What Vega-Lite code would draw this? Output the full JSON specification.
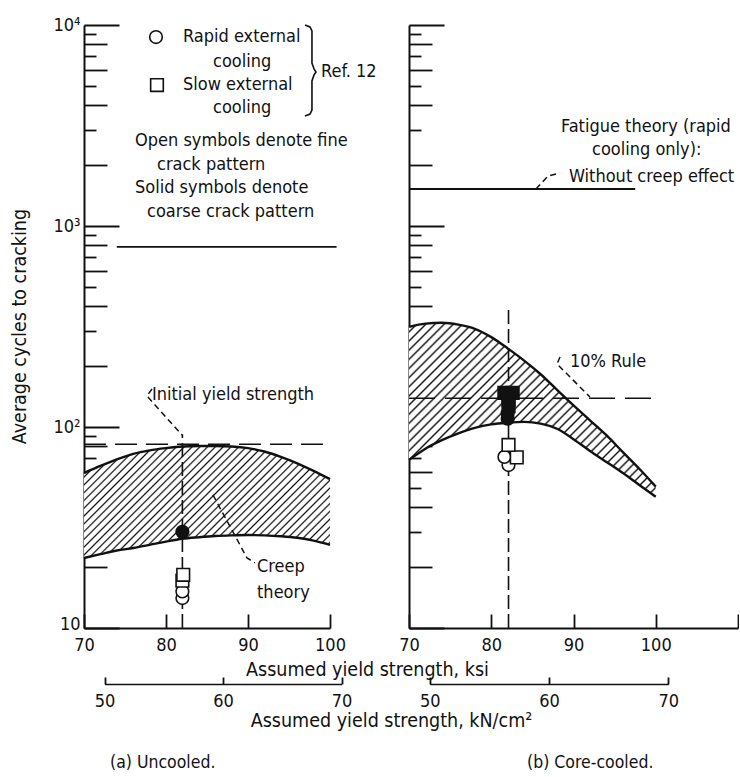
{
"$schema": "https://vega.github.io/schema/vega-lite/v6.json",
"background": "white",
"padding": {"left": 9, "top": 16, "right": 0, "bottom": 0},
"bounds": "flush",
"spacing": 79,
"config": {
  "font": "DejaVu Sans Condensed, Liberation Sans Narrow, DejaVu Sans",
  "view": {"stroke": null},
  "axis": {"domainColor": "#111", "domainWidth": 2, "tickColor": "#111", "tickWidth": 1.8, "labelColor": "#111", "titleColor": "#111", "labelFontSize": 18, "titleFontSize": 19.5, "titleFontWeight": "normal", "grid": false, "zindex": 1}
},
"datasets": {
  "bandA": [
    {"ksi":70,"n":59,"n2":22.3},{"ksi":72,"n":64,"n2":23.3},{"ksi":74,"n":69,"n2":24.3},{"ksi":76,"n":73.5,"n2":25.0},
    {"ksi":78,"n":76.5,"n2":25.9},{"ksi":80,"n":78.5,"n2":26.9},{"ksi":82,"n":80,"n2":27.8},{"ksi":84,"n":80.5,"n2":28.3},
    {"ksi":86,"n":80.5,"n2":28.7},{"ksi":88,"n":80,"n2":28.9},{"ksi":90,"n":78.5,"n2":29.0},{"ksi":92,"n":75.5,"n2":28.9},
    {"ksi":94,"n":71,"n2":28.6},{"ksi":96,"n":66,"n2":28.1},{"ksi":98,"n":60.5,"n2":27.2},{"ksi":100,"n":55,"n2":25.9}
  ],
  "bandB": [
    {"ksi":70,"n":315,"n2":68.6},{"ksi":72,"n":327,"n2":78},{"ksi":74,"n":330,"n2":86},{"ksi":76,"n":323,"n2":93},
    {"ksi":78,"n":308,"n2":99},{"ksi":80,"n":280,"n2":103},{"ksi":82,"n":246,"n2":105},{"ksi":84,"n":214,"n2":106},
    {"ksi":86,"n":183,"n2":104},{"ksi":88,"n":153,"n2":98},{"ksi":90,"n":128,"n2":87},{"ksi":92,"n":108,"n2":76},
    {"ksi":94,"n":91,"n2":67},{"ksi":96,"n":75,"n2":59},{"ksi":98,"n":62,"n2":51.5},{"ksi":100,"n":50.5,"n2":45}
  ],
  "ptsA": [
    {"ksi":78.78,"n":8715,"cool":"Rapid","pat":"fine"},
    {"ksi":78.9,"n":5029,"cool":"Slow","pat":"fine"},
    {"ksi":82,"n":30.1,"cool":"Rapid","pat":"coarse"},
    {"ksi":82,"n":14.1,"cool":"Rapid","pat":"fine"},
    {"ksi":82,"n":15.2,"cool":"Rapid","pat":"fine"},
    {"ksi":82,"n":17.2,"cool":"Slow","pat":"fine"},
    {"ksi":82.1,"n":18.4,"cool":"Slow","pat":"fine"}
  ],
  "ptsB": [
    {"ksi":82.1,"n":64.7,"cool":"Rapid","pat":"fine"},
    {"ksi":81.6,"n":71,"cool":"Rapid","pat":"fine"},
    {"ksi":83.1,"n":70.6,"cool":"Slow","pat":"fine"},
    {"ksi":82.1,"n":81.4,"cool":"Slow","pat":"fine"},
    {"ksi":82.0,"n":110,"cool":"Rapid","pat":"coarse"},
    {"ksi":82.0,"n":117,"cool":"Rapid","pat":"coarse"},
    {"ksi":82.1,"n":127,"cool":"Slow","pat":"coarse"},
    {"ksi":82.1,"n":137,"cool":"Slow","pat":"coarse"},
    {"ksi":81.6,"n":148,"cool":"Slow","pat":"coarse"},
    {"ksi":82.6,"n":148,"cool":"Slow","pat":"coarse"}
  ],
  "txtA": [
    {"ksi":82.07,"n":8715,"label":"Rapid external"},
    {"ksi":85.73,"n":6545,"label":"cooling"},
    {"ksi":82.07,"n":5029,"label":"Slow external"},
    {"ksi":85.73,"n":3864,"label":"cooling"},
    {"ksi":98.9,"n":5838,"label":"Ref. 12"},
    {"ksi":76.22,"n":2648,"label":"Open symbols denote fine"},
    {"ksi":78.9,"n":2012,"label":"crack pattern"},
    {"ksi":76.22,"n":1545,"label":"Solid symbols denote"},
    {"ksi":77.68,"n":1174,"label":"coarse crack pattern"},
    {"ksi":78.29,"n":144,"label":"Initial yield strength"},
    {"ksi":91.1,"n":20.1,"label":"Creep"},
    {"ksi":91.1,"n":14.9,"label":"theory"}
  ],
  "txtB": [
    {"ksi":88.48,"n":3115,"label":"Fatigue theory (rapid"},
    {"ksi":92.25,"n":2392,"label":"cooling only):"},
    {"ksi":89.45,"n":1752,"label":"Without creep effect"},
    {"ksi":89.57,"n":210.6,"label":"10% Rule"}
  ],
  "capA": [{"ksi":73.17,"n":2.13,"label":"(a) Uncooled."}],
  "capB": [{"ksi":84.35,"n":2.13,"label":"(b) Core-cooled."}],
  "braceA": [
    {"o":1,"ksi":96.95,"n":10000},{"o":2,"ksi":97.56,"n":9774},{"o":3,"ksi":97.8,"n":9336},{"o":4,"ksi":97.8,"n":8617},
    {"o":5,"ksi":97.8,"n":6468},{"o":6,"ksi":98.05,"n":6042},{"o":7,"ksi":98.29,"n":5838},{"o":8,"ksi":98.05,"n":5641},
    {"o":9,"ksi":97.8,"n":5265},{"o":10,"ksi":97.8,"n":3953},{"o":11,"ksi":97.8,"n":3776},{"o":12,"ksi":97.56,"n":3607},
    {"o":13,"ksi":96.95,"n":3524}
  ],
  "leadA": [
    {"id":"a","o":1,"ksi":78.29,"n":154.5},{"id":"a","o":2,"ksi":77.68,"n":142.6},{"id":"a","o":3,"ksi":81.95,"n":91.2},
    {"id":"b","o":1,"ksi":85.73,"n":45.9},{"id":"b","o":2,"ksi":89.88,"n":22.3},{"id":"b","o":3,"ksi":90.85,"n":21.1}
  ],
  "leadB": [
    {"id":"c","o":1,"ksi":85.44,"n":1528},{"id":"c","o":2,"ksi":86.9,"n":1774},{"id":"c","o":3,"ksi":88.36,"n":1836},
    {"id":"d","o":1,"ksi":88.36,"n":223},{"id":"d","o":2,"ksi":88.0,"n":206},{"id":"d","o":3,"ksi":92.0,"n":141}
  ]
},
"hconcat": [
{
  "width": 246, "height": 603,
  "resolve": {"scale": {"x": "independent"}},
  "layer": [
  {
    "layer": [
    {
      "data": {"name": "bandA"},
      "mark": {"type": "area", "interpolate": "monotone", "stroke": null,
        "fill": {"gradient": "linear", "x1": 0, "y1": 0, "x2": 1.2054, "y2": 0.5488, "stops": [{"offset":0,"color":"#111"},{"offset":0.0048,"color":"#fff"},{"offset":0.017,"color":"#fff"},
{"offset":0.0217,"color":"#111"},{"offset":0.0265,"color":"#fff"},{"offset":0.0387,"color":"#fff"},
{"offset":0.0435,"color":"#111"},{"offset":0.0483,"color":"#fff"},{"offset":0.0604,"color":"#fff"},
{"offset":0.0652,"color":"#111"},{"offset":0.07,"color":"#fff"},{"offset":0.0822,"color":"#fff"},
{"offset":0.087,"color":"#111"},{"offset":0.0918,"color":"#fff"},{"offset":0.1039,"color":"#fff"},
{"offset":0.1087,"color":"#111"},{"offset":0.1135,"color":"#fff"},{"offset":0.1257,"color":"#fff"},
{"offset":0.1304,"color":"#111"},{"offset":0.1352,"color":"#fff"},{"offset":0.1474,"color":"#fff"},
{"offset":0.1522,"color":"#111"},{"offset":0.157,"color":"#fff"},{"offset":0.1691,"color":"#fff"},
{"offset":0.1739,"color":"#111"},{"offset":0.1787,"color":"#fff"},{"offset":0.1909,"color":"#fff"},
{"offset":0.1957,"color":"#111"},{"offset":0.2005,"color":"#fff"},{"offset":0.2126,"color":"#fff"},
{"offset":0.2174,"color":"#111"},{"offset":0.2222,"color":"#fff"},{"offset":0.2343,"color":"#fff"},
{"offset":0.2391,"color":"#111"},{"offset":0.2439,"color":"#fff"},{"offset":0.2561,"color":"#fff"},
{"offset":0.2609,"color":"#111"},{"offset":0.2657,"color":"#fff"},{"offset":0.2778,"color":"#fff"},
{"offset":0.2826,"color":"#111"},{"offset":0.2874,"color":"#fff"},{"offset":0.2996,"color":"#fff"},
{"offset":0.3043,"color":"#111"},{"offset":0.3091,"color":"#fff"},{"offset":0.3213,"color":"#fff"},
{"offset":0.3261,"color":"#111"},{"offset":0.3309,"color":"#fff"},{"offset":0.343,"color":"#fff"},
{"offset":0.3478,"color":"#111"},{"offset":0.3526,"color":"#fff"},{"offset":0.3648,"color":"#fff"},
{"offset":0.3696,"color":"#111"},{"offset":0.3744,"color":"#fff"},{"offset":0.3865,"color":"#fff"},
{"offset":0.3913,"color":"#111"},{"offset":0.3961,"color":"#fff"},{"offset":0.4083,"color":"#fff"},
{"offset":0.413,"color":"#111"},{"offset":0.4178,"color":"#fff"},{"offset":0.43,"color":"#fff"},
{"offset":0.4348,"color":"#111"},{"offset":0.4396,"color":"#fff"},{"offset":0.4517,"color":"#fff"},
{"offset":0.4565,"color":"#111"},{"offset":0.4613,"color":"#fff"},{"offset":0.4735,"color":"#fff"},
{"offset":0.4783,"color":"#111"},{"offset":0.4831,"color":"#fff"},{"offset":0.4952,"color":"#fff"},
{"offset":0.5,"color":"#111"},{"offset":0.5048,"color":"#fff"},{"offset":0.517,"color":"#fff"},
{"offset":0.5217,"color":"#111"},{"offset":0.5265,"color":"#fff"},{"offset":0.5387,"color":"#fff"},
{"offset":0.5435,"color":"#111"},{"offset":0.5483,"color":"#fff"},{"offset":0.5604,"color":"#fff"},
{"offset":0.5652,"color":"#111"},{"offset":0.57,"color":"#fff"},{"offset":0.5822,"color":"#fff"},
{"offset":0.587,"color":"#111"},{"offset":0.5918,"color":"#fff"},{"offset":0.6039,"color":"#fff"},
{"offset":0.6087,"color":"#111"},{"offset":0.6135,"color":"#fff"},{"offset":0.6257,"color":"#fff"},
{"offset":0.6304,"color":"#111"},{"offset":0.6352,"color":"#fff"},{"offset":0.6474,"color":"#fff"},
{"offset":0.6522,"color":"#111"},{"offset":0.657,"color":"#fff"},{"offset":0.6691,"color":"#fff"},
{"offset":0.6739,"color":"#111"},{"offset":0.6787,"color":"#fff"},{"offset":0.6909,"color":"#fff"},
{"offset":0.6957,"color":"#111"},{"offset":0.7005,"color":"#fff"},{"offset":0.7126,"color":"#fff"},
{"offset":0.7174,"color":"#111"},{"offset":0.7222,"color":"#fff"},{"offset":0.7343,"color":"#fff"},
{"offset":0.7391,"color":"#111"},{"offset":0.7439,"color":"#fff"},{"offset":0.7561,"color":"#fff"},
{"offset":0.7609,"color":"#111"},{"offset":0.7657,"color":"#fff"},{"offset":0.7778,"color":"#fff"},
{"offset":0.7826,"color":"#111"},{"offset":0.7874,"color":"#fff"},{"offset":0.7996,"color":"#fff"},
{"offset":0.8043,"color":"#111"},{"offset":0.8091,"color":"#fff"},{"offset":0.8213,"color":"#fff"},
{"offset":0.8261,"color":"#111"},{"offset":0.8309,"color":"#fff"},{"offset":0.843,"color":"#fff"},
{"offset":0.8478,"color":"#111"},{"offset":0.8526,"color":"#fff"},{"offset":0.8648,"color":"#fff"},
{"offset":0.8696,"color":"#111"},{"offset":0.8744,"color":"#fff"},{"offset":0.8865,"color":"#fff"},
{"offset":0.8913,"color":"#111"},{"offset":0.8961,"color":"#fff"},{"offset":0.9083,"color":"#fff"},
{"offset":0.913,"color":"#111"},{"offset":0.9178,"color":"#fff"},{"offset":0.93,"color":"#fff"},
{"offset":0.9348,"color":"#111"},{"offset":0.9396,"color":"#fff"},{"offset":0.9517,"color":"#fff"},
{"offset":0.9565,"color":"#111"},{"offset":0.9613,"color":"#fff"},{"offset":0.9735,"color":"#fff"},
{"offset":0.9783,"color":"#111"},{"offset":0.9831,"color":"#fff"},{"offset":0.9952,"color":"#fff"},
{"offset":1,"color":"#111"}]}},
      "encoding": {
        "x": {"field": "ksi", "type": "quantitative", "scale": {"domain": [70, 100], "nice": false, "zero": false},
          "axis": {"values": [70, 80, 90, 100], "tickSize": -14, "labelPadding": 22, "labelFlush": false, "title": "Assumed yield strength, ksi", "titleX": 283, "titleY": 41, "titleBaseline": "middle"}},
        "y": {"field": "n", "type": "quantitative", "scale": {"type": "log", "domain": [10, 10000], "nice": false},
          "axis": {"values": [10,20,30,40,50,60,70,80,90,100,200,300,400,500,600,700,800,900,1000,2000,3000,4000,5000,6000,7000,8000,9000,10000],
            "labelExpr": "datum.value==10000?'10⁴':datum.value==1000?'10³':datum.value==100?'10²':datum.value==10?'10':''",
            "labelOverlap": false, "labelPadding": 39,
            "labelOffset": {"condition": {"test": "datum.value==10", "value": -4}, "value": 0},
            "tickSize": {"condition": [{"test": "indexof([10,100,1000,10000],datum.value)>=0", "value": -35}, {"test": "indexof([20,40,60,80,200,400,600,800,2000,4000,6000,8000],datum.value)>=0", "value": -23}], "value": -12},
            "title": "Average cycles to cracking", "titleX": -65, "titleY": 301, "titleBaseline": "middle"}},
        "y2": {"field": "n2"}
      }
    },
    {"data": {"name": "bandA"}, "mark": {"type": "line", "interpolate": "monotone", "color": "#111", "strokeWidth": 2.4},
     "encoding": {"x": {"field": "ksi", "type": "quantitative"}, "y": {"field": "n", "type": "quantitative"}}},
    {"data": {"name": "bandA"}, "mark": {"type": "line", "interpolate": "monotone", "color": "#111", "strokeWidth": 2.4},
     "encoding": {"x": {"field": "ksi", "type": "quantitative"}, "y": {"field": "n2", "type": "quantitative"}}},
    {"data": {"values": [{"ksi": 74, "ksi2": 100.8, "n": 787}]}, "mark": {"type": "rule", "color": "#111", "strokeWidth": 1.8},
     "encoding": {"x": {"field": "ksi", "type": "quantitative"}, "x2": {"field": "ksi2"}, "y": {"field": "n", "type": "quantitative"}}},
    {"data": {"values": [{"ksi": 70, "ksi2": 100, "n": 82}]}, "mark": {"type": "rule", "color": "#111", "strokeWidth": 1.6, "strokeDash": [22, 9]},
     "encoding": {"x": {"field": "ksi", "type": "quantitative"}, "x2": {"field": "ksi2"}, "y": {"field": "n", "type": "quantitative"}}},
    {"data": {"values": [{"ksi": 82, "n": 10, "n2": 92}]}, "mark": {"type": "rule", "color": "#111", "strokeWidth": 1.6, "strokeDash": [14, 5]},
     "encoding": {"x": {"field": "ksi", "type": "quantitative"}, "y": {"field": "n", "type": "quantitative"}, "y2": {"field": "n2"}}},
    {"data": {"name": "braceA"}, "mark": {"type": "line", "interpolate": "linear", "color": "#111", "strokeWidth": 1.6},
     "encoding": {"x": {"field": "ksi", "type": "quantitative"}, "y": {"field": "n", "type": "quantitative"}, "order": {"field": "o"}}},
    {"data": {"name": "leadA"}, "mark": {"type": "line", "color": "#111", "strokeWidth": 1.5, "strokeDash": [6, 4]},
     "encoding": {"x": {"field": "ksi", "type": "quantitative"}, "y": {"field": "n", "type": "quantitative"}, "detail": {"field": "id"}, "order": {"field": "o"}}},
    {"data": {"name": "ptsA"}, "mark": {"type": "point", "filled": true, "stroke": "#111", "strokeWidth": 1.6, "size": 160, "opacity": 1},
     "encoding": {"x": {"field": "ksi", "type": "quantitative"}, "y": {"field": "n", "type": "quantitative"},
       "shape": {"field": "cool", "type": "nominal", "scale": {"domain": ["Rapid", "Slow"], "range": ["circle", "square"]}, "legend": null},
       "fill": {"field": "pat", "type": "nominal", "scale": {"domain": ["fine", "coarse"], "range": ["#ffffff", "#111111"]}, "legend": null}}},
    {"data": {"name": "txtA"}, "mark": {"type": "text", "align": "left", "baseline": "middle", "fontSize": 18, "color": "#111"},
     "encoding": {"x": {"field": "ksi", "type": "quantitative"}, "y": {"field": "n", "type": "quantitative"}, "text": {"field": "label"}}},
    {"data": {"name": "capA"}, "mark": {"type": "text", "align": "left", "baseline": "middle", "fontSize": 17.5, "color": "#111"},
     "encoding": {"x": {"field": "ksi", "type": "quantitative"}, "y": {"field": "n", "type": "quantitative"}, "text": {"field": "label"}}}
    ]
  },
  {
    "data": {"values": [{"kN": 50}, {"kN": 60}, {"kN": 70}]},
    "mark": {"type": "rule", "opacity": 0},
    "encoding": {"x": {"field": "kN", "type": "quantitative", "scale": {"domain": [50, 70], "range": [20.6, 257.5], "nice": false, "zero": false},
      "axis": {"orient": "bottom", "offset": 56, "values": [50, 60, 70], "tickSize": -7, "labelPadding": 15, "labelFlush": false, "domainWidth": 1.5,
        "title": "Assumed yield strength, kN/cm²", "titleX": 307, "titleY": 36, "titleBaseline": "middle"}}}
  }
  ]
},
{
  "width": 329, "height": 603,
  "resolve": {"scale": {"x": "independent"}},
  "layer": [
  {
    "layer": [
    {
      "data": {"name": "bandB"},
      "mark": {"type": "area", "interpolate": "monotone", "stroke": null,
        "fill": {"gradient": "linear", "x1": 0, "y1": 0, "x2": 1.1388, "y2": 0.803, "stops": [{"offset":0,"color":"#111"},{"offset":0.0048,"color":"#fff"},{"offset":0.017,"color":"#fff"},
{"offset":0.0217,"color":"#111"},{"offset":0.0265,"color":"#fff"},{"offset":0.0387,"color":"#fff"},
{"offset":0.0435,"color":"#111"},{"offset":0.0483,"color":"#fff"},{"offset":0.0604,"color":"#fff"},
{"offset":0.0652,"color":"#111"},{"offset":0.07,"color":"#fff"},{"offset":0.0822,"color":"#fff"},
{"offset":0.087,"color":"#111"},{"offset":0.0918,"color":"#fff"},{"offset":0.1039,"color":"#fff"},
{"offset":0.1087,"color":"#111"},{"offset":0.1135,"color":"#fff"},{"offset":0.1257,"color":"#fff"},
{"offset":0.1304,"color":"#111"},{"offset":0.1352,"color":"#fff"},{"offset":0.1474,"color":"#fff"},
{"offset":0.1522,"color":"#111"},{"offset":0.157,"color":"#fff"},{"offset":0.1691,"color":"#fff"},
{"offset":0.1739,"color":"#111"},{"offset":0.1787,"color":"#fff"},{"offset":0.1909,"color":"#fff"},
{"offset":0.1957,"color":"#111"},{"offset":0.2005,"color":"#fff"},{"offset":0.2126,"color":"#fff"},
{"offset":0.2174,"color":"#111"},{"offset":0.2222,"color":"#fff"},{"offset":0.2343,"color":"#fff"},
{"offset":0.2391,"color":"#111"},{"offset":0.2439,"color":"#fff"},{"offset":0.2561,"color":"#fff"},
{"offset":0.2609,"color":"#111"},{"offset":0.2657,"color":"#fff"},{"offset":0.2778,"color":"#fff"},
{"offset":0.2826,"color":"#111"},{"offset":0.2874,"color":"#fff"},{"offset":0.2996,"color":"#fff"},
{"offset":0.3043,"color":"#111"},{"offset":0.3091,"color":"#fff"},{"offset":0.3213,"color":"#fff"},
{"offset":0.3261,"color":"#111"},{"offset":0.3309,"color":"#fff"},{"offset":0.343,"color":"#fff"},
{"offset":0.3478,"color":"#111"},{"offset":0.3526,"color":"#fff"},{"offset":0.3648,"color":"#fff"},
{"offset":0.3696,"color":"#111"},{"offset":0.3744,"color":"#fff"},{"offset":0.3865,"color":"#fff"},
{"offset":0.3913,"color":"#111"},{"offset":0.3961,"color":"#fff"},{"offset":0.4083,"color":"#fff"},
{"offset":0.413,"color":"#111"},{"offset":0.4178,"color":"#fff"},{"offset":0.43,"color":"#fff"},
{"offset":0.4348,"color":"#111"},{"offset":0.4396,"color":"#fff"},{"offset":0.4517,"color":"#fff"},
{"offset":0.4565,"color":"#111"},{"offset":0.4613,"color":"#fff"},{"offset":0.4735,"color":"#fff"},
{"offset":0.4783,"color":"#111"},{"offset":0.4831,"color":"#fff"},{"offset":0.4952,"color":"#fff"},
{"offset":0.5,"color":"#111"},{"offset":0.5048,"color":"#fff"},{"offset":0.517,"color":"#fff"},
{"offset":0.5217,"color":"#111"},{"offset":0.5265,"color":"#fff"},{"offset":0.5387,"color":"#fff"},
{"offset":0.5435,"color":"#111"},{"offset":0.5483,"color":"#fff"},{"offset":0.5604,"color":"#fff"},
{"offset":0.5652,"color":"#111"},{"offset":0.57,"color":"#fff"},{"offset":0.5822,"color":"#fff"},
{"offset":0.587,"color":"#111"},{"offset":0.5918,"color":"#fff"},{"offset":0.6039,"color":"#fff"},
{"offset":0.6087,"color":"#111"},{"offset":0.6135,"color":"#fff"},{"offset":0.6257,"color":"#fff"},
{"offset":0.6304,"color":"#111"},{"offset":0.6352,"color":"#fff"},{"offset":0.6474,"color":"#fff"},
{"offset":0.6522,"color":"#111"},{"offset":0.657,"color":"#fff"},{"offset":0.6691,"color":"#fff"},
{"offset":0.6739,"color":"#111"},{"offset":0.6787,"color":"#fff"},{"offset":0.6909,"color":"#fff"},
{"offset":0.6957,"color":"#111"},{"offset":0.7005,"color":"#fff"},{"offset":0.7126,"color":"#fff"},
{"offset":0.7174,"color":"#111"},{"offset":0.7222,"color":"#fff"},{"offset":0.7343,"color":"#fff"},
{"offset":0.7391,"color":"#111"},{"offset":0.7439,"color":"#fff"},{"offset":0.7561,"color":"#fff"},
{"offset":0.7609,"color":"#111"},{"offset":0.7657,"color":"#fff"},{"offset":0.7778,"color":"#fff"},
{"offset":0.7826,"color":"#111"},{"offset":0.7874,"color":"#fff"},{"offset":0.7996,"color":"#fff"},
{"offset":0.8043,"color":"#111"},{"offset":0.8091,"color":"#fff"},{"offset":0.8213,"color":"#fff"},
{"offset":0.8261,"color":"#111"},{"offset":0.8309,"color":"#fff"},{"offset":0.843,"color":"#fff"},
{"offset":0.8478,"color":"#111"},{"offset":0.8526,"color":"#fff"},{"offset":0.8648,"color":"#fff"},
{"offset":0.8696,"color":"#111"},{"offset":0.8744,"color":"#fff"},{"offset":0.8865,"color":"#fff"},
{"offset":0.8913,"color":"#111"},{"offset":0.8961,"color":"#fff"},{"offset":0.9083,"color":"#fff"},
{"offset":0.913,"color":"#111"},{"offset":0.9178,"color":"#fff"},{"offset":0.93,"color":"#fff"},
{"offset":0.9348,"color":"#111"},{"offset":0.9396,"color":"#fff"},{"offset":0.9517,"color":"#fff"},
{"offset":0.9565,"color":"#111"},{"offset":0.9613,"color":"#fff"},{"offset":0.9735,"color":"#fff"},
{"offset":0.9783,"color":"#111"},{"offset":0.9831,"color":"#fff"},{"offset":0.9952,"color":"#fff"},
{"offset":1,"color":"#111"}]}},
      "encoding": {
        "x": {"field": "ksi", "type": "quantitative", "scale": {"domain": [70, 110], "nice": false, "zero": false},
          "axis": {"values": [70, 80, 90, 100, 110], "labelExpr": "datum.value==110?'':datum.label", "tickSize": -14, "labelPadding": 22, "labelFlush": false, "title": null}},
        "y": {"field": "n", "type": "quantitative", "scale": {"type": "log", "domain": [10, 10000], "nice": false},
          "axis": {"values": [10,20,30,40,50,60,70,80,90,100,200,300,400,500,600,700,800,900,1000,2000,3000,4000,5000,6000,7000,8000,9000,10000],
            "labels": false, "title": null,
            "tickSize": {"condition": [{"test": "indexof([10,100,1000,10000],datum.value)>=0", "value": -35}, {"test": "indexof([20,40,60,80,200,400,600,800,2000,4000,6000,8000],datum.value)>=0", "value": -23}], "value": -12}}},
        "y2": {"field": "n2"}
      }
    },
    {"data": {"name": "bandB"}, "mark": {"type": "line", "interpolate": "monotone", "color": "#111", "strokeWidth": 2.4},
     "encoding": {"x": {"field": "ksi", "type": "quantitative"}, "y": {"field": "n", "type": "quantitative"}}},
    {"data": {"name": "bandB"}, "mark": {"type": "line", "interpolate": "monotone", "color": "#111", "strokeWidth": 2.4},
     "encoding": {"x": {"field": "ksi", "type": "quantitative"}, "y": {"field": "n2", "type": "quantitative"}}},
    {"data": {"values": [{"ksi": 70, "ksi2": 97.5, "n": 1528}]}, "mark": {"type": "rule", "color": "#111", "strokeWidth": 1.8},
     "encoding": {"x": {"field": "ksi", "type": "quantitative"}, "x2": {"field": "ksi2"}, "y": {"field": "n", "type": "quantitative"}}},
    {"data": {"values": [{"ksi": 70, "ksi2": 100, "n": 139}]}, "mark": {"type": "rule", "color": "#111", "strokeWidth": 1.6, "strokeDash": [26, 10]},
     "encoding": {"x": {"field": "ksi", "type": "quantitative"}, "x2": {"field": "ksi2"}, "y": {"field": "n", "type": "quantitative"}}},
    {"data": {"values": [{"ksi": 82.1, "n": 10, "n2": 395}]}, "mark": {"type": "rule", "color": "#111", "strokeWidth": 1.6, "strokeDash": [14, 5]},
     "encoding": {"x": {"field": "ksi", "type": "quantitative"}, "y": {"field": "n", "type": "quantitative"}, "y2": {"field": "n2"}}},
    {"data": {"name": "leadB"}, "mark": {"type": "line", "color": "#111", "strokeWidth": 1.5, "strokeDash": [6, 4]},
     "encoding": {"x": {"field": "ksi", "type": "quantitative"}, "y": {"field": "n", "type": "quantitative"}, "detail": {"field": "id"}, "order": {"field": "o"}}},
    {"data": {"name": "ptsB"}, "mark": {"type": "point", "filled": true, "stroke": "#111", "strokeWidth": 1.6, "size": 160, "opacity": 1},
     "encoding": {"x": {"field": "ksi", "type": "quantitative"}, "y": {"field": "n", "type": "quantitative"},
       "shape": {"field": "cool", "type": "nominal", "scale": {"domain": ["Rapid", "Slow"], "range": ["circle", "square"]}, "legend": null},
       "fill": {"field": "pat", "type": "nominal", "scale": {"domain": ["fine", "coarse"], "range": ["#ffffff", "#111111"]}, "legend": null}}},
    {"data": {"name": "txtB"}, "mark": {"type": "text", "align": "left", "baseline": "middle", "fontSize": 18, "color": "#111"},
     "encoding": {"x": {"field": "ksi", "type": "quantitative"}, "y": {"field": "n", "type": "quantitative"}, "text": {"field": "label"}}},
    {"data": {"name": "capB"}, "mark": {"type": "text", "align": "left", "baseline": "middle", "fontSize": 17.5, "color": "#111"},
     "encoding": {"x": {"field": "ksi", "type": "quantitative"}, "y": {"field": "n", "type": "quantitative"}, "text": {"field": "label"}}}
    ]
  },
  {
    "data": {"values": [{"kN": 50}, {"kN": 60}, {"kN": 70}]},
    "mark": {"type": "rule", "opacity": 0},
    "encoding": {"x": {"field": "kN", "type": "quantitative", "scale": {"domain": [50, 70], "range": [20.7, 259.3], "nice": false, "zero": false},
      "axis": {"orient": "bottom", "offset": 56, "values": [50, 60, 70], "tickSize": -7, "labelPadding": 15, "labelFlush": false, "domainWidth": 1.5, "title": null}}}
  }
  ]
}
]
}
